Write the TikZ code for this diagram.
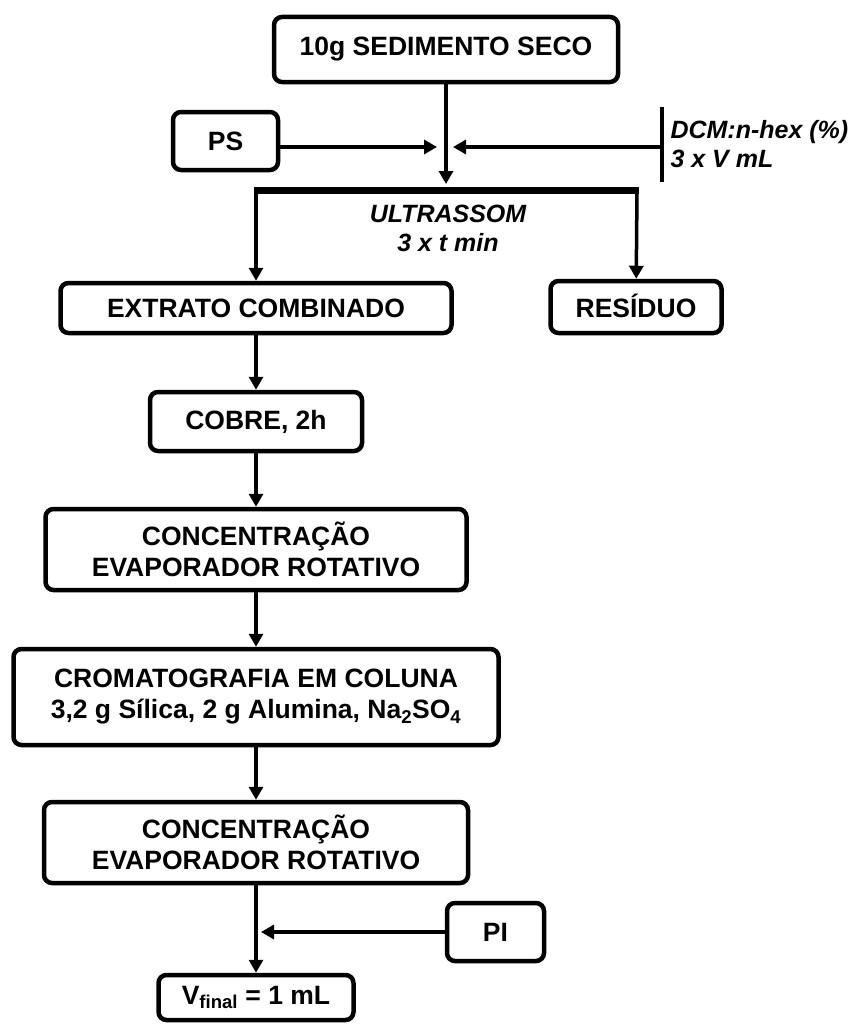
\documentclass[tikz,border=0pt]{standalone}
\usepackage{fontspec}
\setmainfont{Liberation Sans}
\usetikzlibrary{arrows.meta, positioning}
\newcommand{\sub}[1]{\textsubscript{#1}}

\begin{document}
\begin{tikzpicture}[
        x=1pt,
        y=-1pt,
        >={Triangle[length=13pt, width=14pt]},
        every node/.style={font=\bfseries\fontsize{26.5}{31}\selectfont, align=center},
        stepbox/.style={draw, line width=4.5pt, rounded corners=8pt, inner sep=0pt},
        flow/.style={->, line width=3.5pt},
        note/.style={font=\bfseries\itshape\fontsize{25}{29}\selectfont}
    ]
    \useasboundingbox (0,0) rectangle (864,1025);

    \node[stepbox, minimum width=344pt, minimum height=65pt] (sed) at (446,49.5) {10g SEDIMENTO SECO};
    \node[stepbox, minimum width=105pt, minimum height=58pt] (ps) at (225.5,141) {PS};
    \node[stepbox, minimum width=391pt, minimum height=50pt] (extrato) at (256,308) {EXTRATO COMBINADO};
    \node[stepbox, minimum width=171pt, minimum height=52pt] (residuo) at (636,307) {\smash{\raisebox{-10pt}{RESÍDUO}}};
    \node[stepbox, minimum width=212pt, minimum height=59pt] (cobre) at (256,421.5) {COBRE, 2h};
    \node[stepbox, minimum width=421pt, minimum height=81pt] (conc1) at (256,549.5) {CONCENTRAÇÃO\\EVAPORADOR ROTATIVO};
    \node[stepbox, minimum width=485pt, minimum height=96pt] (croma) at (256,697) {CROMATOGRAFIA EM COLUNA\\3,2 g Sílica, 2 g Alumina, Na\sub{2}SO\sub{4}};
    \node[stepbox, minimum width=424pt, minimum height=81pt] (conc2) at (256,842.5) {CONCENTRAÇÃO\\EVAPORADOR ROTATIVO};
    \node[stepbox, minimum width=97pt, minimum height=58pt] (pi) at (495.5,932) {PI};
    \node[stepbox, minimum width=195pt, minimum height=45pt] (vfinal) at (256,997.5) {V\sub{final} = 1 mL};

    % solvent and ultrasound
    \coordinate (ustop) at (446,184);
    \coordinate (psin) at (437,147);
    \coordinate (dcmin) at (453,147);
    \coordinate (dcmtop) at (662,107);
    \coordinate (dcmbot) at (662,182);
    \coordinate (dcmmid) at (662,147);
    \coordinate (barl) at (256,190);
    \coordinate (barr) at (637,190);
    \coordinate (piin) at (261,932);

    \draw[line width=4.5pt] (dcmtop) -- (dcmbot);
    \node[note, anchor=west, align=left] (dcm) at (667,144) {DCM:n-hex (\%)\\3 x V mL};
    \draw[line width=7pt] ([xshift=-1.75pt]barl) -- ([xshift=1.75pt]barr);
    \node[note] (ultra) at (448,228) {ULTRASSOM\\3 x t min};

    \draw[flow] (sed) -- (ustop);
    \draw[flow] (ps.east |- psin) -- (psin);
    \draw[flow] (dcmmid) -- (dcmin);
    \draw[flow] (barl) -- (extrato);
    \draw[flow] (barr) -- (residuo);

    % main line
    \draw[flow] (extrato) -- (cobre);
    \draw[flow] (cobre) -- (conc1);
    \draw[flow] (conc1) -- (croma);
    \draw[flow] (croma) -- (conc2);
    \draw[flow] (conc2) -- (vfinal);
    \draw[flow] (pi) -- (piin);
\end{tikzpicture}
\end{document}
